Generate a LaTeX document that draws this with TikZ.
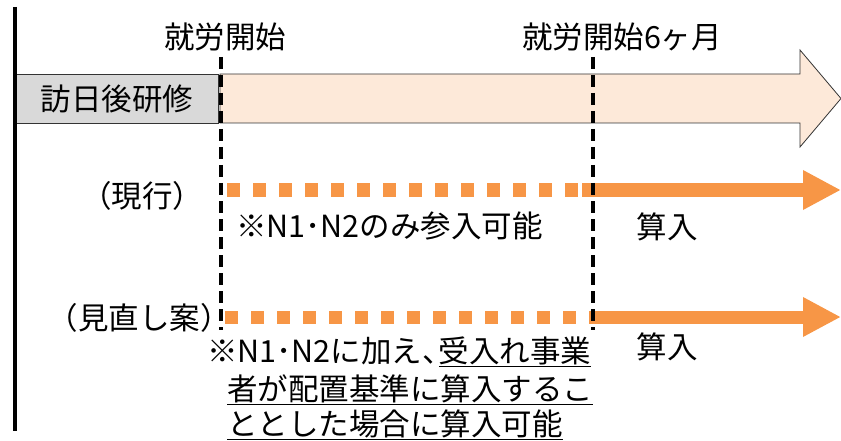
\documentclass[tikz,border=0pt]{standalone}
\usepackage{fontspec}
\setmainfont{Noto Sans CJK JP}
\usetikzlibrary{arrows.meta, positioning}
\definecolor{orangelinie}{HTML}{F79646}
\definecolor{pfirsich}{HTML}{FDE9D9}
\definecolor{hellgrau}{HTML}{D9D9D9}

\begin{document}
\begin{tikzpicture}[x=1pt, y=-1pt,
  beschriftung/.style = {font=\fontsize{30.5}{38}\selectfont, inner sep=0pt,
                         text height=26.8pt, text depth=3.7pt},
  graubox/.style      = {beschriftung, draw=black!80, line width=0.8pt, fill=hellgrau,
                         minimum width=203pt, minimum height=49pt},
  grosspfeil/.style   = {draw=black!80, line width=0.8pt, fill=pfirsich},
  achse/.style        = {line width=3.2pt, black},
  marke/.style        = {line width=3.6pt, black, dash pattern=on 12pt off 6pt},
  punktiert/.style    = {line width=13pt, orangelinie, dash pattern=on 13pt off 13pt},
  pfeillinie/.style   = {line width=13pt, orangelinie,
                         -{Triangle[length=38pt, width=37pt]}}]

%%% Festlegen der BoundingBox
\useasboundingbox (0,0) rectangle (841,441);

%%% Definition von Punkten
\coordinate (achseO)  at (15,7);
\coordinate (achseU)  at (15,431);
\coordinate (startO)  at (221,57);
\coordinate (startU)  at (221,330);
\coordinate (sechsO)  at (593,57);
\coordinate (sechsU)  at (593,330);
\coordinate (jetztA)  at (227,190);
\coordinate (jetztB)  at (582,190);
\coordinate (jetztE)  at (841,190);
\coordinate (neuA)    at (225,317);
\coordinate (neuB)    at (593,317);
\coordinate (neuE)    at (841,317);

%%% Grosser Pfeil
\draw[grosspfeil] (220,74) -- (800,74) -- (800,50) -- (841,98.5) -- (800,147)
  -- (800,123) -- (220,123) -- cycle;

%%% Kasten und Zeitachse
\node[graubox] (kenshu) at (117,98.5) {訪日後研修};
\draw[achse] (achseO) -- (achseU);

%%% Orange Linien
\draw[punktiert]  (jetztA) -- (jetztB);
\draw[pfeillinie] (jetztB) -- (jetztE);
\draw[punktiert]  (neuA) -- (neuB);
\draw[pfeillinie] (neuB) -- (neuE);

%%% Gestrichelte Marken
\draw[marke] (startO) -- (startU);
\draw[marke] (sechsO) -- (sechsU);

%%% Beschriftungen
\node[beschriftung] (kaishi)      at (225,37)  {就労開始};
\node[beschriftung] (sechsmonate) at (622,37)  {就労開始6ヶ月};
\node[beschriftung] (genko)       at (142,196) {（現行）};
\node[beschriftung] (minaoshi)    at (139,318) {（見直し案）};
\node[beschriftung, anchor=west] (nurN) at (236,226) {※N1･N2のみ参入可能};
\node[beschriftung] (sannyuA)     at (667,227) {算入};
\node[beschriftung] (sannyuB)     at (667,347) {算入};
\node[beschriftung, anchor=west] (hinweisA) at (207,351) {※N1･N2に加え、\hspace{-14pt}\underline{受入れ事業}};
\node[beschriftung, anchor=west] (hinweisB) at (227,389) {\underline{者が配置基準に算入するこ}};
\node[beschriftung, anchor=west] (hinweisC) at (227,424) {\underline{ととした場合に算入可能}};
\end{tikzpicture}
\end{document}
